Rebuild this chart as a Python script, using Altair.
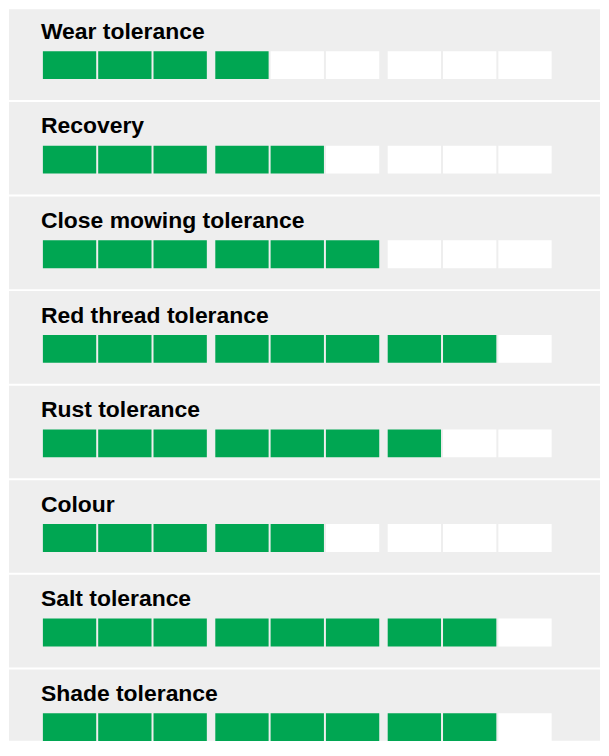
import altair as alt
import pandas as pd

# ---- data ----
traits = [
    "Wear tolerance",
    "Recovery",
    "Close mowing tolerance",
    "Red thread tolerance",
    "Rust tolerance",
    "Colour",
    "Salt tolerance",
    "Shade tolerance",
]
scores = [4, 5, 6, 8, 7, 5, 8, 8]
max_score = 9
group_size = 3

# ---- layout constants (in scale units) ----
W, H = 593, 734
ROW_PX = 94.9          # pixel pitch of a row
CELL_PX = 55.5         # pixel pitch of a cell
X_OFFSET_PX = 34       # first cell from left edge of chart
Y_SHIFT_PX = -2        # shift of row content relative to chart top
GROUP_GAP = 0.117      # extra gap between groups, in cell units
CELL_W = 0.964         # cell width in cell units

cells = []
for r, (t, s) in enumerate(zip(traits, scores)):
    for i in range(max_score):
        pos = i + (i // group_size) * GROUP_GAP
        cells.append({
            "trait": t,
            "row": r,
            "cell": i + 1,
            "filled": "yes" if i < s else "no",
            "x": pos,
            "x2": pos + CELL_W,
            "y": r + (44 + Y_SHIFT_PX) / ROW_PX,
            "y2": r + (72 + Y_SHIFT_PX) / ROW_PX,
        })
cells_df = pd.DataFrame(cells)

labels_df = pd.DataFrame({
    "trait": traits,
    "score": scores,
    "x": [-0.036] * len(traits),
    "y": [r + (31.7 + Y_SHIFT_PX) / ROW_PX for r in range(len(traits))],
})

seps_df = pd.DataFrame({"y": [r + (94 + Y_SHIFT_PX) / ROW_PX for r in range(len(traits))]})

x_scale = alt.Scale(domain=[-X_OFFSET_PX / CELL_PX, (W - X_OFFSET_PX) / CELL_PX], nice=False, zero=False)
y_scale = alt.Scale(domain=[0, H / ROW_PX], reverse=True, nice=False, zero=False)

rects = alt.Chart(cells_df).mark_rect().encode(
    x=alt.X("x:Q", scale=x_scale, axis=None),
    x2="x2:Q",
    y=alt.Y("y:Q", scale=y_scale, axis=None),
    y2="y2:Q",
    color=alt.Color("filled:N", scale=alt.Scale(domain=["yes", "no"], range=["#00a652", "#ffffff"]), legend=None),
    tooltip=["trait:N", "cell:Q", "filled:N"],
)

text = alt.Chart(labels_df).mark_text(
    align="left", baseline="alphabetic", font="Liberation Sans", fontWeight="bold",
    fontSize=23, color="#000000",
).encode(
    x=alt.X("x:Q", scale=x_scale, axis=None),
    y=alt.Y("y:Q", scale=y_scale, axis=None),
    text="trait:N",
)

seps = alt.Chart(seps_df).mark_rule(color="#ffffff", strokeWidth=2).encode(
    y=alt.Y("y:Q", scale=y_scale, axis=None),
)

chart = alt.layer(seps, rects, text).properties(
    width=W, height=H, padding=0,
).configure_view(stroke=None, fill="#eeeeee")

chart.save("out.html", embed_options={"renderer": "svg", "actions": False})
